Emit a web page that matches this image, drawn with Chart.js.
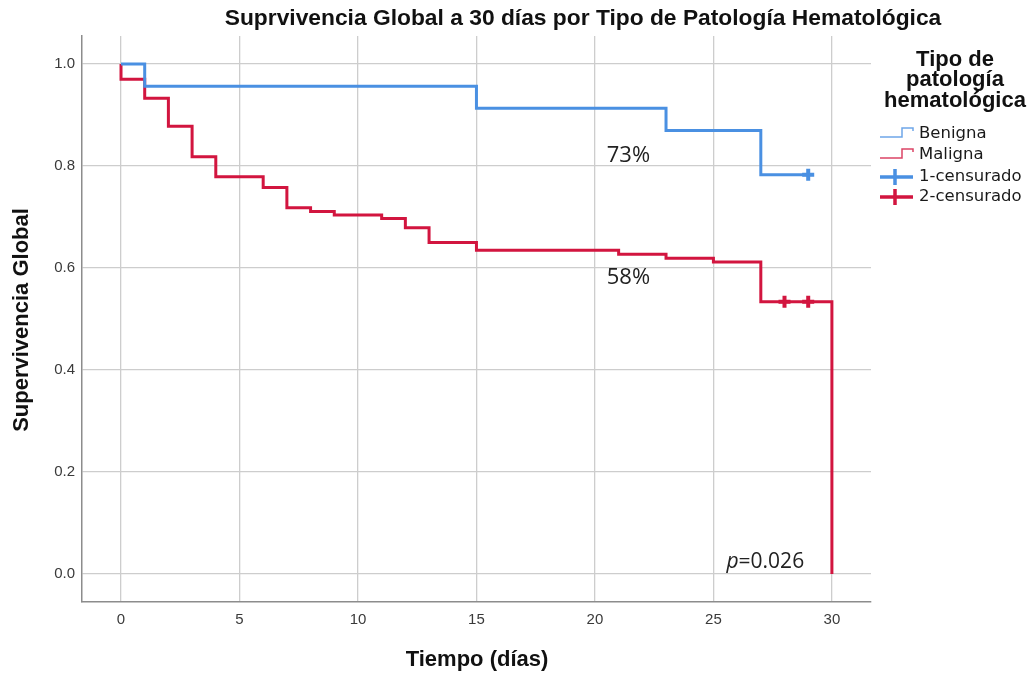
<!DOCTYPE html>
<html>
<head>
<meta charset="utf-8">
<script src="https://cdn.jsdelivr.net/npm/chart.js@4.4.1/dist/chart.umd.min.js"></script>
<style>
  html, body { margin: 0; padding: 0; background: #fff; }
  #wrap { width: 1035px; height: 673px; }
</style>
</head>
<body>
<div id="wrap"><canvas id="myChart" width="1035" height="673"></canvas></div>
<script>
// datos
const benignaDias = [0, 1, 15, 23, 27, 29];
const benignaSup = [1, 0.9565, 0.913, 0.8696, 0.7826, 0.7826];
const malignaDias = [0, 0, 1, 2, 3, 4, 6, 7, 8, 9, 11, 12, 13, 15, 21, 23, 25, 27, 30];
const malignaSup = [1, 0.970, 0.933, 0.878, 0.818, 0.779, 0.758, 0.718, 0.711, 0.704, 0.697, 0.679, 0.650, 0.635, 0.627, 0.619, 0.612, 0.534, 0];
const censBenDias = [29];
const censBenSup = [0.7826];
const censMalDias = [28, 29];
const censMalSup = [0.534, 0.534];
const xTicks = [0, 5, 10, 15, 20, 25, 30];
const yTicks = [0, 0.2, 0.4, 0.6, 0.8, 1.0];
const etiquetas = ['Benigna', 'Maligna', '1-censurado', '2-censurado'];

const azul = '#4a90e2';
const rojo = '#d2153f';

function puntos(xs, ys) {
    return xs.map((x, i) => ({x: x, y: ys[i]}));
}

const textos = {
    id: 'textos',
    afterDraw(chart) {
        const c = chart.ctx;
        const xs = chart.scales.x, ys = chart.scales.y;
        c.save();
        c.fillStyle = '#111';
        c.textAlign = 'center';
        c.textBaseline = 'middle';
        c.font = 'bold 22.8px "Liberation Sans", Arial, sans-serif';
        c.fillText('Suprvivencia Global a 30 días por Tipo de Patología Hematológica', 583, 19);
        c.font = 'bold 22px "Liberation Sans", Arial, sans-serif';
        c.fillText('Tiempo (días)', 477, 660);
        c.save();
        c.translate(22, 320);
        c.rotate(-Math.PI / 2);
        c.fillText('Supervivencia Global', 0, 0);
        c.restore();

        // porcentajes
        c.textAlign = 'left';
        c.font = '22px "Open Sans", sans-serif';
        c.fillStyle = '#222';
        c.fillText('73%', xs.getPixelForValue(20.5), ys.getPixelForValue(0.82));
        c.fillText('58%', xs.getPixelForValue(20.5), ys.getPixelForValue(0.58));
        c.font = 'italic 21px "Open Sans", sans-serif';
        let px = xs.getPixelForValue(25.55), py = ys.getPixelForValue(0.024);
        c.fillText('p', px, py);
        px += c.measureText('p').width;
        c.font = '21px "Open Sans", sans-serif';
        c.fillText('=0.026', px, py);

        // leyenda
        c.textAlign = 'center';
        c.fillStyle = '#111';
        c.font = 'bold 22px "Liberation Sans", Arial, sans-serif';
        c.fillText('Tipo de', 955, 60);
        c.fillText('patología', 955, 80);
        c.fillText('hematológica', 955, 101);

        c.textAlign = 'left';
        c.font = '16.5px "DejaVu Sans", sans-serif';
        const filas = [134, 155, 177, 197];
        filas.forEach((y, i) => {
            c.fillStyle = '#1a1a1a';
            c.fillText(etiquetas[i], 919, y);
            const col = i % 2 === 0 ? azul : rojo;
            c.strokeStyle = col;
            if (i < 2) {
                c.globalAlpha = 0.8;
                c.lineWidth = 1.5;
                c.beginPath();
                c.moveTo(880, y + 3);
                c.lineTo(902, y + 3);
                c.lineTo(902, y - 6);
                c.lineTo(913, y - 6);
                c.lineTo(913, y - 3);
                c.stroke();
                c.globalAlpha = 1;
            } else {
                c.lineWidth = 3.5;
                c.beginPath();
                c.moveTo(880, y);
                c.lineTo(913, y);
                c.moveTo(895, y - 8);
                c.lineTo(895, y + 8);
                c.stroke();
            }
        });
        c.restore();
    }
};

new Chart(document.getElementById('myChart'), {
    type: 'line',
    data: {
        datasets: [
            {
                label: 'Benigna',
                data: puntos(benignaDias, benignaSup),
                borderColor: azul,
                borderWidth: 3,
                stepped: 'before',
                pointRadius: 0,
                fill: false
            },
            {
                label: 'Maligna',
                data: puntos(malignaDias, malignaSup),
                borderColor: rojo,
                borderWidth: 3,
                stepped: 'before',
                pointRadius: 0,
                fill: false
            },
            {
                label: '1-censurado',
                data: puntos(censBenDias, censBenSup),
                showLine: false,
                pointStyle: 'cross',
                pointRadius: 6,
                pointBorderWidth: 4,
                pointBorderColor: azul,
                borderColor: azul
            },
            {
                label: '2-censurado',
                data: puntos(censMalDias, censMalSup),
                showLine: false,
                pointStyle: 'cross',
                pointRadius: 6,
                pointBorderWidth: 4,
                pointBorderColor: rojo,
                borderColor: rojo
            }
        ]
    },
    options: {
        responsive: false,
        animation: false,
        layout: { padding: { top: 36, right: 164, left: 0, bottom: 0 } },
        plugins: {
            legend: { display: false },
            title: { display: false },
            tooltip: { enabled: false }
        },
        scales: {
            x: {
                type: 'linear',
                min: -1.646,
                max: 31.65,
                afterBuildTicks: s => { s.ticks = xTicks.map(v => ({value: v})); },
                afterFit: s => { s.height = 71; },
                grid: { color: '#cdcdcd', lineWidth: 1.3, drawTicks: false },
                border: { color: '#8c8c8c', width: 1.5 },
                ticks: {
                    padding: 9,
                    color: '#3a3a3a',
                    font: { family: '"Liberation Sans", Arial, sans-serif', size: 15 },
                    callback: v => String(v)
                }
            },
            y: {
                type: 'linear',
                min: -0.0549,
                max: 1.0549,
                afterBuildTicks: s => { s.ticks = yTicks.map(v => ({value: v})); },
                afterFit: s => { s.width = 82; },
                grid: { color: '#cdcdcd', lineWidth: 1.3, drawTicks: false },
                border: { color: '#8c8c8c', width: 1.5 },
                ticks: {
                    padding: 7,
                    color: '#3a3a3a',
                    font: { family: '"Liberation Sans", Arial, sans-serif', size: 15 },
                    callback: v => v.toFixed(1)
                }
            }
        }
    },
    plugins: [textos]
});
</script>
</body>
</html>
